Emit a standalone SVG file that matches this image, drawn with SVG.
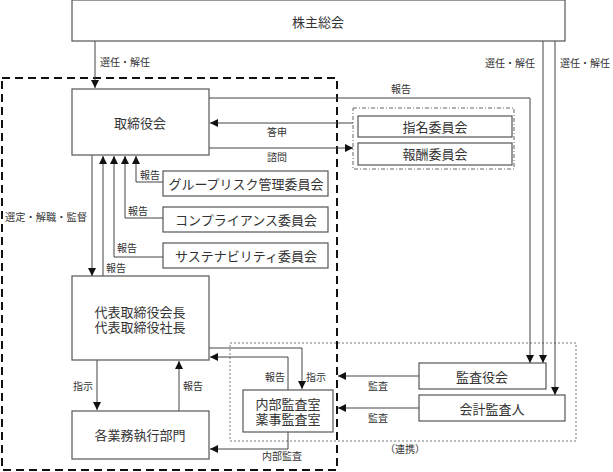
<svg xmlns="http://www.w3.org/2000/svg" width="613" height="472" viewBox="0 0 613 472">
<defs>
<marker id="ah" markerUnits="userSpaceOnUse" markerWidth="9" markerHeight="8" refX="8" refY="4" orient="auto">
<path d="M0,0 L8,4 L0,8 z" fill="#111"/>
</marker>
<style>
.box{fill:#fff;stroke:#555;stroke-width:1.2}
.ln{fill:none;stroke:#444;stroke-width:1}
.arr{fill:none;stroke:#444;stroke-width:1;marker-end:url(#ah)}
.t{font-family:"Liberation Serif","Noto Sans CJK JP",serif;font-size:13px;fill:#333;text-anchor:middle;dominant-baseline:central}
.s{font-family:"Liberation Serif","Noto Sans CJK JP",serif;font-size:10px;fill:#333;dominant-baseline:central}
</style>
</defs>
<rect width="613" height="472" fill="#fff"/>

<!-- region frames -->
<rect x="2" y="78" width="335" height="392" fill="none" stroke="#111" stroke-width="2" stroke-dasharray="8,5"/>
<rect x="353" y="108" width="161" height="61" fill="none" stroke="#666" stroke-width="1" stroke-dasharray="4,2,1,2"/>
<rect x="230" y="343" width="346" height="98" fill="none" stroke="#777" stroke-width="1" stroke-dasharray="2,2"/>

<g id="connectors">
<path class="arr" d="M95,41 V88"/>
<path class="ln" d="M209,98 H530"/>
<path class="arr" d="M530,98 V363"/>
<path class="arr" d="M543,41 V363"/>
<path class="arr" d="M555,41 V395"/>
<path class="arr" d="M353,123 H210"/>
<path class="arr" d="M209,148 H353"/>
<path class="arr" d="M92,155 V276"/>
<path class="arr" d="M103,276 V156"/>
<path class="arr" d="M163,257 H114 V156"/>
<path class="arr" d="M163,218 H125 V156"/>
<path class="arr" d="M163,182 H136 V156"/>
<path class="arr" d="M97,360 V410"/>
<path class="arr" d="M179,411 V361"/>
<path class="arr" d="M209,348 H302 V389"/>
<path class="arr" d="M288,390 V357 H210"/>
<path class="arr" d="M288,432 V449 H210"/>
<path class="arr" d="M419,376 H338"/>
<path class="arr" d="M419,408 H338"/>
</g>

<g id="labels">
<text class="s" x="100" y="62">選任・解任</text>
<text class="s" x="485" y="63">選任・解任</text>
<text class="s" x="560" y="63">選任・解任</text>
<text class="s" x="391" y="89">報告</text>
<text class="s" x="267" y="132">答申</text>
<text class="s" x="267" y="157">諮問</text>
<text class="s" x="140" y="175">報告</text>
<text class="s" x="128" y="211">報告</text>
<text class="s" x="117" y="248">報告</text>
<text class="s" x="106" y="268">報告</text>
<text class="s" x="5" y="217" textLength="82" lengthAdjust="spacingAndGlyphs">選定・解職・監督</text>
<text class="s" x="73" y="386">指示</text>
<text class="s" x="183" y="386">報告</text>
<text class="s" x="265" y="377">報告</text>
<text class="s" x="306" y="377">指示</text>
<text class="s" x="368" y="386">監査</text>
<text class="s" x="368" y="418">監査</text>
<text class="s" x="262" y="456">内部監査</text>
<text class="s" x="385" y="449">（連携）</text>
</g>

<g id="n_shareholders"><rect class="box" x="72" y="0" width="493" height="41"/><text class="t" x="318" y="22">株主総会</text></g>
<g id="n_board"><rect class="box" x="72" y="89" width="137" height="66"/><text class="t" x="140" y="123">取締役会</text></g>
<g id="n_nomination"><rect class="box" x="358" y="116" width="154" height="21"/><text class="t" x="435" y="127">指名委員会</text></g>
<g id="n_remuneration"><rect class="box" x="358" y="143" width="154" height="22"/><text class="t" x="435" y="154">報酬委員会</text></g>
<g id="n_grouprisk"><rect class="box" x="163" y="171" width="165" height="25"/><text class="t" x="246" y="184">グループリスク管理委員会</text></g>
<g id="n_compliance"><rect class="box" x="163" y="207" width="165" height="25"/><text class="t" x="246" y="220">コンプライアンス委員会</text></g>
<g id="n_sustainability"><rect class="box" x="163" y="243" width="165" height="25"/><text class="t" x="246" y="256">サステナビリティ委員会</text></g>
<g id="n_representative"><rect class="box" x="72" y="276" width="137" height="84"/><text class="t" x="140" y="312">代表取締役会長</text><text class="t" x="140" y="327">代表取締役社長</text></g>
<g id="n_business"><rect class="box" x="72" y="411" width="137" height="48"/><text class="t" x="140" y="435">各業務執行部門</text></g>
<g id="n_internalaudit"><rect class="box" x="243" y="390" width="90" height="42"/><text class="t" x="288" y="404">内部監査室</text><text class="t" x="288" y="419">薬事監査室</text></g>
<g id="n_auditboard"><rect class="box" x="419" y="363" width="127" height="26"/><text class="t" x="482" y="377">監査役会</text></g>
<g id="n_accountant"><rect class="box" x="419" y="395" width="146" height="26"/><text class="t" x="492" y="409">会計監査人</text></g>
</svg>
